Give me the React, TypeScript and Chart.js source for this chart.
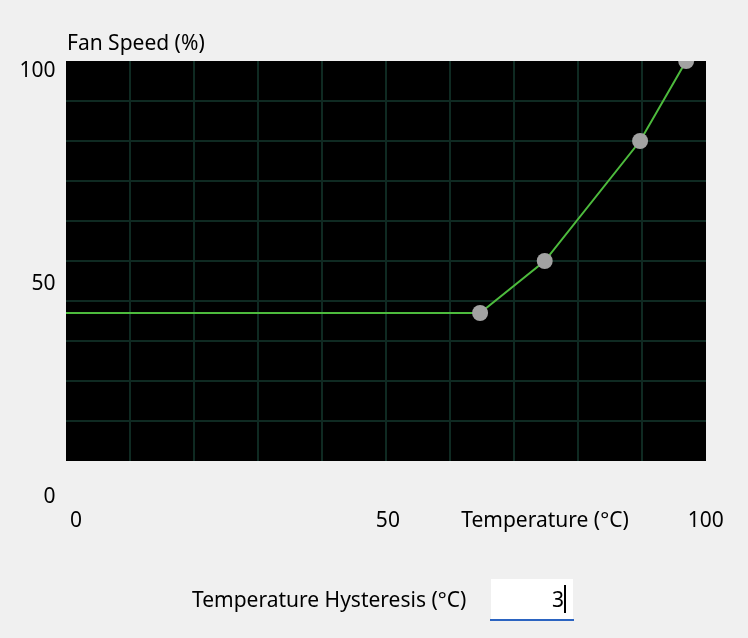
import { useEffect, useRef } from "react";
import { Chart, registerables } from "chart.js";

Chart.register(...registerables);

// ---- data ----
const temperatures = [0, 64.7, 74.8, 89.7, 96.9];
const fanSpeeds = [37, 37, 50, 80, 100];
const markerRadii = [0, 8, 8, 8, 8];
const xTickLabels = [0, 50, 100];
const yTickLabels = [0, 50, 100];
const yTitle = "Fan Speed (%)";
const xTitle = "Temperature (°C)";
const hysteresisLabel = "Temperature Hysteresis (°C)";
const hysteresisValue = "3";

const FONT = '21px "Noto Sans", "Open Sans", sans-serif';

const fanPlugin = {
  id: "fanCurveDecor",
  beforeDraw(chart: any) {
    const { ctx, chartArea } = chart;
    ctx.save();
    ctx.fillStyle = "#000000";
    ctx.fillRect(chartArea.left, chartArea.top, chartArea.right - chartArea.left, chartArea.bottom - chartArea.top);
    ctx.restore();
  },
  afterDraw(chart: any) {
    const { ctx, chartArea, scales } = chart;
    const xs = scales.x;
    const ys = scales.y;
    ctx.save();
    ctx.font = FONT;
    ctx.fillStyle = "#000000";
    ctx.textBaseline = "alphabetic";

    // y tick labels
    ctx.textAlign = "right";
    yTickLabels.forEach((v) => {
      const p = ys.getPixelForValue(v);
      const ly = chartArea.top + 16 + (p - chartArea.top) * 1.065;
      ctx.fillText(String(v), chartArea.left - 10.5, ly);
    });

    // x tick labels
    ctx.textAlign = "center";
    xTickLabels.forEach((v) => {
      const p = xs.getPixelForValue(v);
      const lx = chartArea.left + 10 + (p - chartArea.left) * 0.984 - (v === 50 ? 3 : 0);
      ctx.fillText(String(v), lx, chartArea.bottom + 66);
    });

    // titles
    ctx.textAlign = "left";
    ctx.fillText(yTitle, chartArea.left + 1, chartArea.top - 11);
    ctx.textAlign = "center";
    ctx.fillText(xTitle, 545, chartArea.bottom + 66);

    // hysteresis control
    ctx.textAlign = "left";
    ctx.fillText(hysteresisLabel, 192, 607);
    ctx.fillStyle = "#ffffff";
    ctx.fillRect(491, 579, 82, 40);
    ctx.fillStyle = "#2b64c1";
    ctx.fillRect(490, 619, 84, 2);
    ctx.fillStyle = "#000000";
    ctx.textAlign = "right";
    ctx.fillText(hysteresisValue, 564, 607);
    ctx.fillRect(564, 585, 2, 28);
    ctx.restore();
  },
};

export default function App() {
  const ref = useRef<HTMLCanvasElement | null>(null);

  useEffect(() => {
    if (!ref.current) return;
    const gridColor = (c: any) =>
      c.tick && (c.tick.value === 0 || c.tick.value === 100) ? "rgba(0,0,0,0)" : "#0f2a22";
    const chart = new Chart(ref.current, {
      type: "line",
      data: {
        datasets: [
          {
            data: temperatures.map((t, i) => ({ x: t, y: fanSpeeds[i] })),
            borderColor: "#4dbb3d",
            borderWidth: 2,
            pointRadius: markerRadii,
            pointHoverRadius: markerRadii,
            pointBackgroundColor: "#a2a2a2",
            pointBorderColor: "#a2a2a2",
            pointBorderWidth: 0,
            tension: 0,
            clip: 0,
          } as any,
        ],
      },
      options: {
        responsive: false,
        animation: false,
        devicePixelRatio: 1,
        layout: { padding: { left: 66, top: 61, right: 42, bottom: 177 } },
        plugins: { legend: { display: false }, tooltip: { enabled: false } },
        events: [],
        scales: {
          x: {
            type: "linear",
            min: 0,
            max: 100,
            ticks: { display: false, stepSize: 10 },
            grid: { color: gridColor, lineWidth: 2, drawTicks: false },
            border: { display: false },
          },
          y: {
            type: "linear",
            min: 0,
            max: 100,
            ticks: { display: false, stepSize: 10 },
            grid: { color: gridColor, lineWidth: 2, drawTicks: false },
            border: { display: false },
          },
        },
      },
      plugins: [fanPlugin],
    });
    return () => chart.destroy();
  }, []);

  return (
    <div style={{ position: "fixed", inset: 0, background: "#f0f0f0" }}>
      <canvas ref={ref} width={748} height={638} style={{ position: "absolute", left: 0, top: 0 }} />
    </div>
  );
}
